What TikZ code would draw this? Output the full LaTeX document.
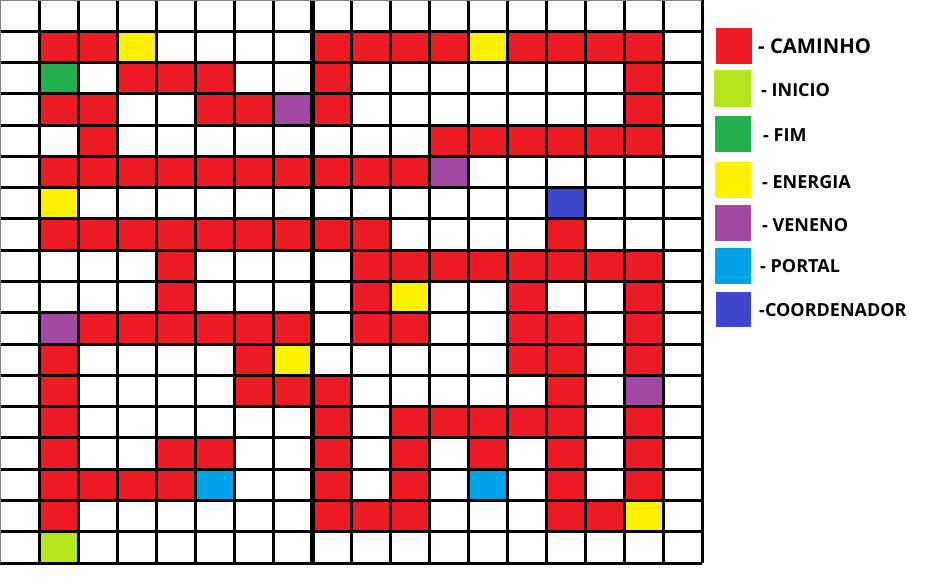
\documentclass[tikz,border=0pt]{standalone}
\usepackage{fontspec}
\setmainfont{Open Sans}
\definecolor{cred}{HTML}{ED1C24}
\definecolor{cyel}{HTML}{FFF200}
\definecolor{cpur}{HTML}{A349A4}
\definecolor{cgrn}{HTML}{22B14C}
\definecolor{clim}{HTML}{B5E61D}
\definecolor{ccya}{HTML}{00A2E8}
\definecolor{cblu}{HTML}{3F48CC}
\tikzset{
  gridline/.style={black,line width=3pt},
  legsq/.style={draw=none,inner sep=0pt,minimum width=36pt,minimum height=36pt},
  legtxt/.style={anchor=west,inner sep=0pt,font=\bfseries\fontsize{18}{20}\selectfont}
}
\newcommand{\cellfill}[3]{\fill[#3] ({#1*39},{-#2*31.28}) rectangle ({(#1+1)*39},{-(#2+1)*31.28});}
\begin{document}
\begin{tikzpicture}[x=1pt,y=1pt]
\useasboundingbox (0,0) rectangle (937,-582);
\fill[white] (0,0) rectangle (937,-582);
% red path cells
\foreach \r/\cs in {1/{1,2,8,9,10,11,13,14,15,16},
                    2/{3,4,5,8,16},
                    3/{1,2,5,6,8,16},
                    4/{2,11,12,13,14,15,16},
                    5/{1,2,3,4,5,6,7,8,9,10},
                    7/{1,2,3,4,5,6,7,8,9,14},
                    8/{4,9,10,11,12,13,14,15,16},
                    9/{4,9,13,16},
                    10/{2,3,4,5,6,7,9,10,13,14,16},
                    11/{1,6,13,14,16},
                    12/{1,6,7,8,14},
                    13/{1,8,10,11,12,13,14,16},
                    14/{1,4,5,8,10,12,14,16},
                    15/{1,2,3,4,8,10,14,16},
                    16/{1,8,9,10,14,15}}{
  \foreach \c in \cs {\cellfill{\c}{\r}{cred}}
}
\foreach \c/\r in {3/1,12/1,1/6,10/9,7/11,16/16}{\cellfill{\c}{\r}{cyel}}
\foreach \c/\r in {7/3,11/5,1/10,16/12}{\cellfill{\c}{\r}{cpur}}
\cellfill{1}{2}{cgrn}
\cellfill{1}{17}{clim}
\foreach \c/\r in {5/15,12/15}{\cellfill{\c}{\r}{ccya}}
\cellfill{14}{6}{cblu}
% grid lines
\foreach \i in {1,...,17}{
  \draw[gridline] ({\i*39},0) -- ({\i*39},-563);
  \draw[gridline] (0,{-\i*31.28}) -- (702,{-\i*31.28});
}
\draw[black,line width=5pt] (312,0) -- (312,-563);
\draw[gridline] (0,-563) -- (702,-563);
\draw[gridline] (702,0) -- (702,-563);
\draw[gray,line width=1.5pt] (0,-563) -- (0,0) -- (702,0);
% legend
\node[legsq,fill=cred] (sqcam) at (734,-46) {};
\node[legsq,fill=clim,minimum width=37pt,minimum height=37pt] (sqini) at (732.5,-88.5) {};
\node[legsq,fill=cgrn] (sqfim) at (733,-134) {};
\node[legsq,fill=cyel] (sqene) at (733,-180) {};
\node[legsq,fill=cpur] (sqven) at (733,-223) {};
\node[legsq,fill=ccya] (sqpor) at (733,-266) {};
\node[legsq,fill=cblu,minimum width=35pt,minimum height=35pt] (sqcoo) at (733.5,-309.5) {};
\node[legtxt,font=\bfseries\fontsize{20.3}{22}\selectfont] (tcam) at (758,-46.5) {- CAMINHO};
\node[legtxt] (tini) at (761,-90.3) {- INICIO};
\node[legtxt] (tfim) at (763,-134.7) {- FIM};
\node[legtxt] (tene) at (762,-182.3) {- ENERGIA};
\node[legtxt] (tven) at (762,-225) {- VENENO};
\node[legtxt] (tpor) at (760,-265.7) {- PORTAL};
\node[legtxt] (tcoo) at (759,-310.3) {-COORDENADOR};
\end{tikzpicture}
\end{document}
